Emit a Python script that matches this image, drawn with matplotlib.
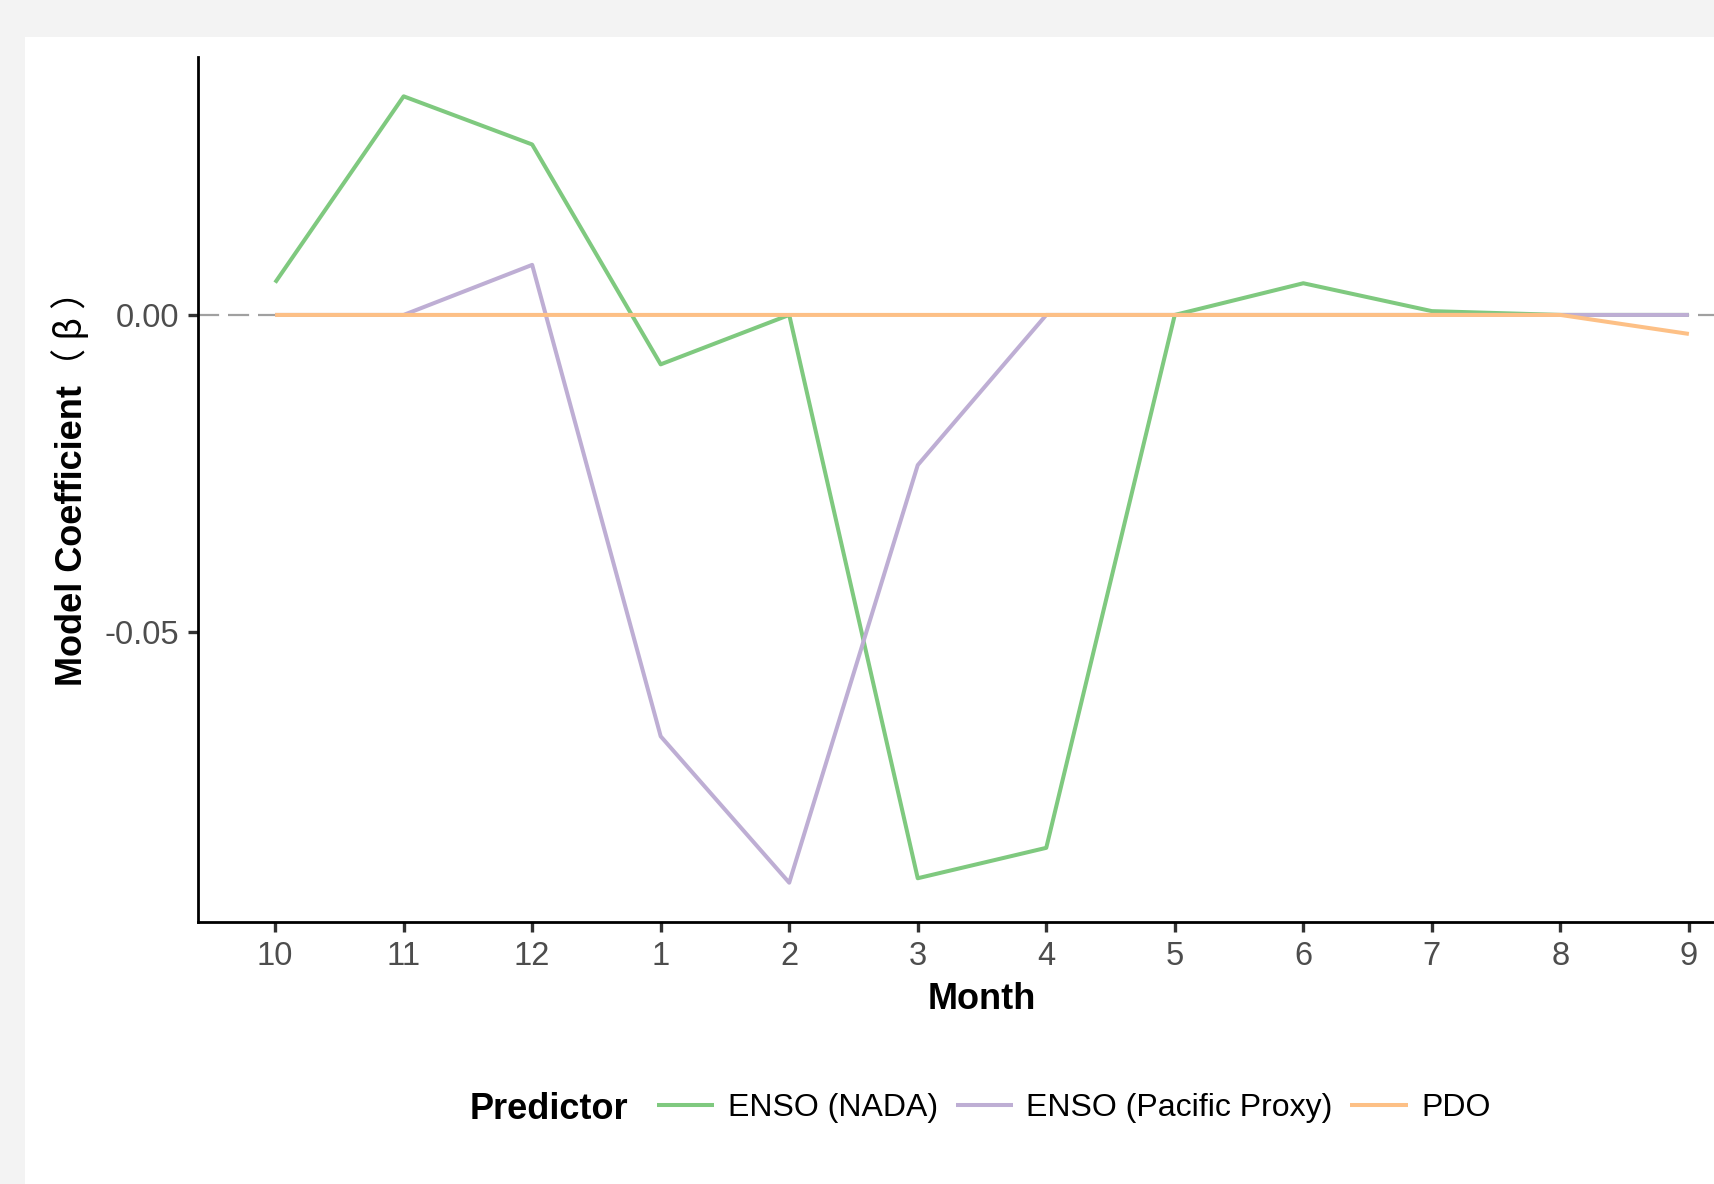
import matplotlib.pyplot as plt
from matplotlib.lines import Line2D
from matplotlib.patches import Rectangle

plt.rcParams['font.family'] = ['Liberation Sans', 'Noto Sans CJK SC', 'DejaVu Sans']

# данные: коэффициенты модели по месяцам водного года
months = ['10', '11', '12', '1', '2', '3', '4', '5', '6', '7', '8', '9']
enso_nada = [0.0051, 0.0345, 0.0269, -0.0078, 0.0, -0.0889, -0.0841, 0.0, 0.0050, 0.0006, 0.0, 0.0]
enso_pacific = [0.0, 0.0, 0.0079, -0.0665, -0.0896, -0.0237, 0.0, 0.0, 0.0, 0.0, 0.0, 0.0]
pdo = [0.0, 0.0, 0.0, 0.0, 0.0, 0.0, 0.0, 0.0, 0.0, 0.0, 0.0, -0.0030]

series_names = ['ENSO (NADA)', 'ENSO (Pacific Proxy)', 'PDO']
series_colors = ['#7fc97f', '#beaed4', '#fdc086']
y_ticks = [0.0, -0.05]
y_tick_labels = ['0.00', '-0.05']

W, H = 1714, 1184
fig = plt.figure(figsize=(W / 100, H / 100), dpi=100, facecolor='#f3f3f3')

# белая панель (как у обрезанного графика)
fig.patches.append(Rectangle((25 / W, 0), 1, 1 - 37 / H, transform=fig.transFigure,
                             facecolor='white', edgecolor='none', zorder=-1))

ax = fig.add_axes([198 / W, 262 / H, 1568 / W, 865 / H])
ax.set_facecolor('none')

x = list(range(len(months)))
ax.axhline(0, color='#a0a0a0', lw=1.6, dashes=(9.5, 4.0), zorder=1)
for vals, name, col in zip([enso_nada, enso_pacific, pdo], series_names, series_colors):
    ax.plot(x, vals, color=col, lw=2.9, solid_capstyle='butt', solid_joinstyle='round',
            label=name, zorder=2)

all_vals = enso_nada + enso_pacific + pdo
lo, hi = min(all_vals), max(all_vals)
pad = 0.05 * (hi - lo)
ax.set_ylim(lo - pad, hi + pad)
ax.set_xlim(-0.6, len(months) - 1 + 0.6)

ax.set_xticks(x)
ax.set_xticklabels(months)
ax.set_yticks(y_ticks)
ax.set_yticklabels(y_tick_labels)
ax.tick_params(axis='both', length=7, width=2.4, color='#333333', labelcolor='#4d4d4d',
               labelsize=23.5, pad=6.5)

for s in ['top', 'right']:
    ax.spines[s].set_visible(False)
for s in ['left', 'bottom']:
    ax.spines[s].set_linewidth(2.0)
    ax.spines[s].set_color('black')

# подписи осей
fig.text((198 + 1766) / 2 / W, 1 - 1009 / H, 'Month', ha='center', va='baseline',
         fontsize=26, fontweight='bold')

# подпись оси Y: жирная часть + скобки из CJK-шрифта
ylab = fig.text(82 / W, 1 - 686 / H, 'Model Coefficient', rotation=90, rotation_mode='anchor',
                ha='left', va='baseline', fontsize=26, fontweight='bold')
renderer = fig.canvas.get_renderer()
bb = ylab.get_window_extent(renderer)
fig.text(82 / W, (bb.y1 + 1) / H, '（ β ）', rotation=90, rotation_mode='anchor',
         ha='left', va='baseline', fontsize=26, family=['Noto Sans CJK SC', 'DejaVu Sans'])

# легенда
handles = [Line2D([], [], color=c, lw=2.9, solid_capstyle='butt') for c in series_colors]
fig.legend(handles, series_names, loc='center left', bbox_to_anchor=(657 / W, 1 - 1108 / H),
           ncol=3, frameon=False, fontsize=23, handlelength=1.79, handletextpad=0.42,
           columnspacing=0.56, borderpad=0, borderaxespad=0)
fig.text(470 / W, 1 - 1119 / H, 'Predictor', ha='left', va='baseline',
         fontsize=26, fontweight='bold')

fig.savefig('out.png', dpi=100, facecolor=fig.get_facecolor())
